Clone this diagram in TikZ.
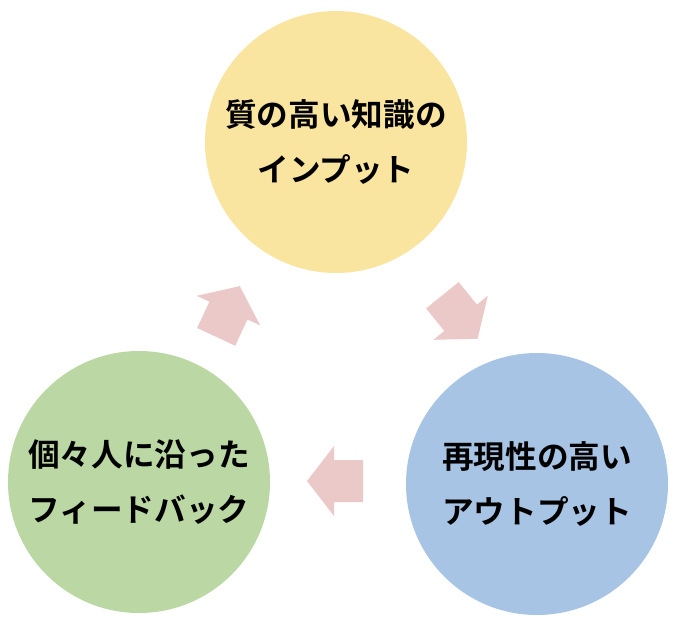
\documentclass[tikz,border=0pt]{standalone}
\usepackage{fontspec}
\newfontfamily\jpfont{Noto Sans CJK JP}[BoldFont={* Bold}]
\definecolor{inputyellow}{RGB}{250,229,160}
\definecolor{outputblue}{RGB}{167,196,228}
\definecolor{feedbackgreen}{RGB}{186,215,164}
\definecolor{arrowpink}{RGB}{236,201,201}
\tikzset{
stage/.style={circle,inner sep=0pt,outer sep=0pt,minimum size=262*0.02cm,align=center,
  font=\jpfont\bfseries\fontsize{18pt}{31.5pt}\selectfont},
blockarrow/.pic={\fill[arrowpink] (-28,-21) -- (1,-21) -- (1,-35) -- (28,0) -- (1,35) -- (1,21) -- (-28,21) -- cycle;}
}
\begin{document}
\begin{tikzpicture}[x=0.02cm,y=0.02cm]
\useasboundingbox (0,0) rectangle (680,620);
\node[stage,fill=inputyellow] (input) at (336,478) {質の高い知識の\\インプット};
\node[stage,fill=outputblue] (output) at (537,136) {再現性の高い\\アウトプット};
\node[stage,fill=feedbackgreen] (feedback) at (139,138) {個々人に沿った\\フィードバック};
% cycle arrows
\pic[rotate=-51] at (460,303) {blockarrow};
\pic[rotate=180] at (335,139) {blockarrow};
\pic[rotate=65] at (228,308.5) {blockarrow};
\end{tikzpicture}
\end{document}
